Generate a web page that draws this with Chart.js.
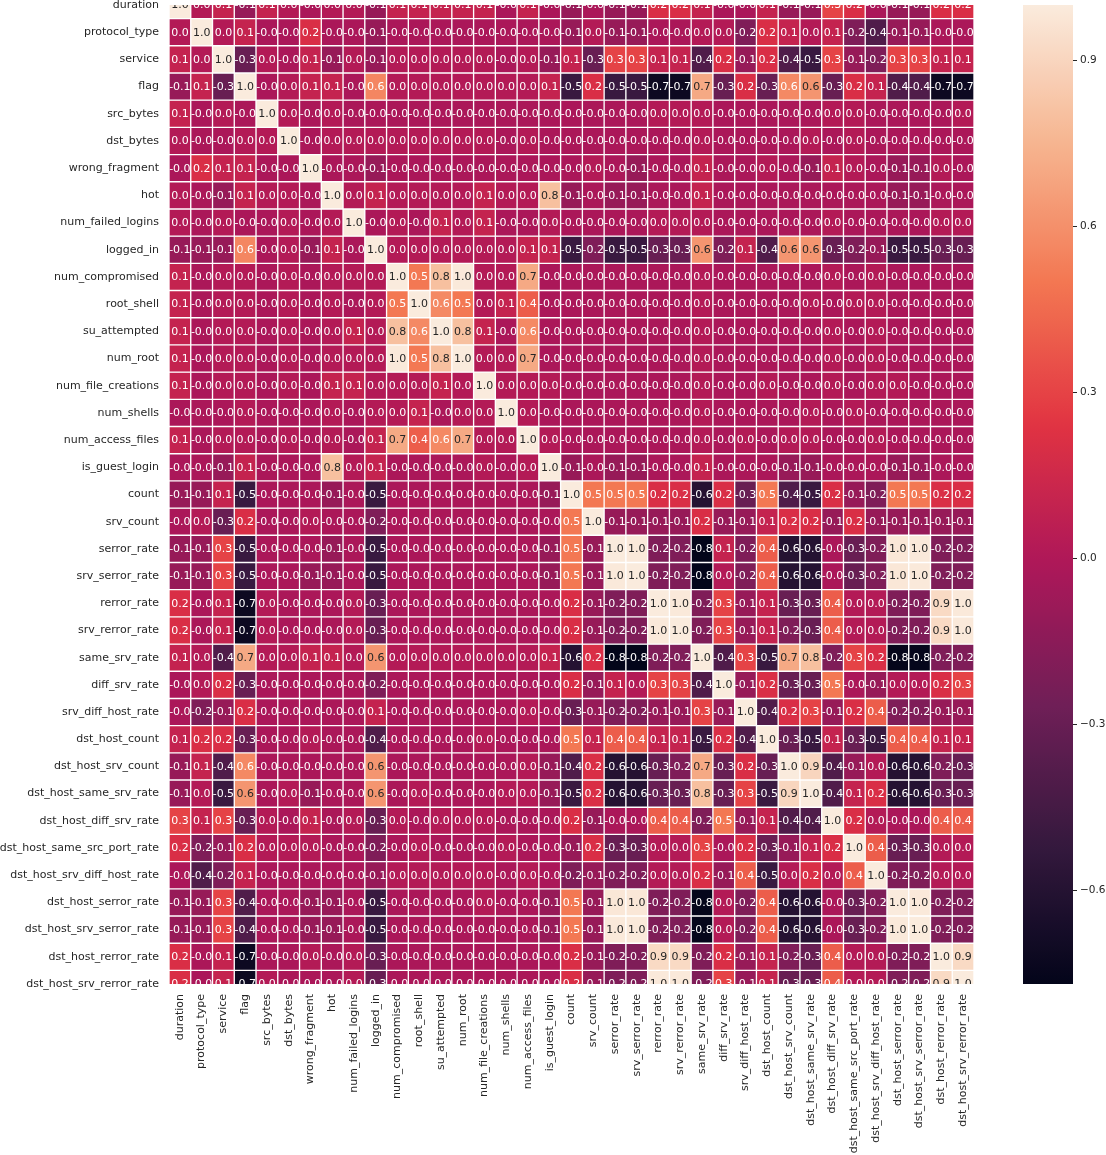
<!DOCTYPE html>
<html>
<head>
<meta charset="utf-8">
<script src="https://cdn.jsdelivr.net/npm/chart.js@4.4.0/dist/chart.umd.min.js"></script>
<style>
  html, body { margin: 0; padding: 0; background: #fff; }
  #wrap { position: relative; width: 1106px; height: 1155px; }
</style>
</head>
<body>
<div id="wrap"><canvas id="heat"></canvas></div>
<script>
// feature names (rows top->bottom, columns left->right)
const features = [
    'duration', 'protocol_type', 'service', 'flag', 'src_bytes', 'dst_bytes',
    'wrong_fragment', 'hot', 'num_failed_logins', 'logged_in', 'num_compromised',
    'root_shell', 'su_attempted', 'num_root', 'num_file_creations', 'num_shells',
    'num_access_files', 'is_guest_login', 'count', 'srv_count', 'serror_rate',
    'srv_serror_rate', 'rerror_rate', 'srv_rerror_rate', 'same_srv_rate',
    'diff_srv_rate', 'srv_diff_host_rate', 'dst_host_count', 'dst_host_srv_count',
    'dst_host_same_srv_rate', 'dst_host_diff_srv_rate', 'dst_host_same_src_port_rate',
    'dst_host_srv_diff_host_rate', 'dst_host_serror_rate', 'dst_host_srv_serror_rate',
    'dst_host_rerror_rate', 'dst_host_srv_rerror_rate'
];

// lower triangle of the correlation matrix (row i has columns 0..i)
const corrLower = [
    [1.0],
    [0.02, 1.0],
    [0.1, 0.02, 1.0],
    [-0.1, 0.1, -0.3, 1.0],
    [0.1, -0.02, 0.02, -0.02, 1.0],
    [0.02, -0.02, -0.02, 0.02, 0.02, 1.0],
    [-0.02, 0.2, 0.1, 0.1, -0.02, -0.02, 1.0],
    [0.02, -0.02, -0.1, 0.1, 0.02, 0.02, -0.02, 1.0],
    [0.02, -0.02, 0.02, -0.02, -0.02, 0.02, -0.02, 0.02, 1.0],
    [-0.1, -0.1, -0.1, 0.56, -0.02, 0.02, -0.1, 0.1, -0.02, 1.0],
    [0.1, -0.02, 0.02, 0.02, -0.02, 0.02, -0.02, 0.02, 0.02, 0.02, 1.0],
    [0.1, -0.02, 0.02, 0.02, -0.02, 0.02, -0.02, 0.02, -0.02, 0.02, 0.5, 1.0],
    [0.1, -0.02, 0.02, 0.02, -0.02, 0.02, -0.02, 0.02, 0.1, 0.02, 0.8, 0.57, 1.0],
    [0.1, -0.02, 0.02, 0.02, -0.02, 0.02, -0.02, 0.02, 0.02, 0.02, 0.99, 0.5, 0.8, 1.0],
    [0.1, -0.02, 0.02, 0.02, -0.02, 0.02, -0.02, 0.1, 0.1, 0.02, 0.02, 0.02, 0.1, 0.02, 1.0],
    [-0.02, -0.02, -0.02, 0.02, -0.02, -0.02, -0.02, 0.02, -0.02, 0.02, 0.02, 0.1, -0.02, 0.02, 0.02, 1.0],
    [0.1, -0.02, 0.02, 0.02, -0.02, 0.02, -0.02, 0.02, -0.02, 0.1, 0.7, 0.4, 0.57, 0.7, 0.02, 0.02, 1.0],
    [-0.02, -0.02, -0.1, 0.1, -0.02, -0.02, -0.02, 0.8, 0.02, 0.1, -0.02, -0.02, -0.02, -0.02, 0.02, -0.02, 0.02, 1.0],
    [-0.1, -0.1, 0.1, -0.5, -0.02, -0.02, -0.02, -0.1, -0.02, -0.5, -0.02, -0.02, -0.02, -0.02, -0.02, -0.02, -0.02, -0.1, 1.0],
    [-0.02, 0.02, -0.3, 0.2, -0.02, -0.02, 0.02, -0.02, -0.02, -0.2, -0.02, -0.02, -0.02, -0.02, -0.02, -0.02, -0.02, -0.02, 0.5, 1.0],
    [-0.1, -0.1, 0.3, -0.5, -0.02, -0.02, -0.02, -0.1, -0.02, -0.5, -0.02, -0.02, -0.02, -0.02, -0.02, -0.02, -0.02, -0.1, 0.5, -0.1, 1.0],
    [-0.1, -0.1, 0.3, -0.5, -0.02, -0.02, -0.1, -0.1, -0.02, -0.5, -0.02, -0.02, -0.02, -0.02, -0.02, -0.02, -0.02, -0.1, 0.5, -0.1, 0.99, 1.0],
    [0.2, -0.02, 0.1, -0.72, 0.02, -0.02, -0.02, -0.02, 0.02, -0.3, -0.02, -0.02, -0.02, -0.02, -0.02, -0.02, -0.02, -0.02, 0.2, -0.1, -0.2, -0.2, 1.0],
    [0.2, -0.02, 0.1, -0.72, 0.02, -0.02, -0.02, -0.02, 0.02, -0.3, -0.02, -0.02, -0.02, -0.02, -0.02, -0.02, -0.02, -0.02, 0.2, -0.1, -0.2, -0.2, 0.99, 1.0],
    [0.1, 0.02, -0.4, 0.7, 0.02, 0.02, 0.1, 0.1, 0.02, 0.62, 0.02, 0.02, 0.02, 0.02, 0.02, 0.02, 0.02, 0.1, -0.6, 0.2, -0.77, -0.77, -0.2, -0.2, 1.0],
    [-0.02, 0.02, 0.2, -0.3, -0.02, -0.02, -0.02, -0.02, -0.02, -0.2, -0.02, -0.02, -0.02, -0.02, -0.02, -0.02, -0.02, -0.02, 0.2, -0.1, 0.1, 0.02, 0.3, 0.3, -0.4, 1.0],
    [-0.02, -0.2, -0.1, 0.2, -0.02, -0.02, -0.02, -0.02, -0.02, 0.1, -0.02, -0.02, -0.02, -0.02, -0.02, -0.02, 0.02, -0.02, -0.3, -0.1, -0.2, -0.2, -0.1, -0.1, 0.3, -0.1, 1.0],
    [0.1, 0.2, 0.2, -0.3, -0.02, -0.02, 0.02, -0.02, -0.02, -0.4, -0.02, -0.02, -0.02, -0.02, 0.02, -0.02, -0.02, -0.02, 0.5, 0.1, 0.4, 0.4, 0.1, 0.1, -0.5, 0.2, -0.4, 1.0],
    [-0.1, 0.1, -0.4, 0.57, -0.02, -0.02, -0.02, -0.02, -0.02, 0.62, -0.02, -0.02, -0.02, -0.02, -0.02, -0.02, 0.02, -0.1, -0.4, 0.2, -0.6, -0.6, -0.3, -0.2, 0.7, -0.3, 0.2, -0.3, 1.0],
    [-0.1, 0.02, -0.5, 0.62, -0.02, 0.02, -0.1, -0.02, -0.02, 0.62, -0.02, 0.02, -0.02, -0.02, -0.02, 0.02, 0.02, -0.1, -0.5, 0.2, -0.6, -0.6, -0.3, -0.3, 0.8, -0.3, 0.3, -0.5, 0.9, 1.0],
    [0.3, 0.1, 0.3, -0.3, 0.02, -0.02, 0.1, -0.02, 0.02, -0.3, 0.02, -0.02, 0.02, 0.02, 0.02, -0.02, -0.02, -0.02, 0.2, -0.1, -0.02, -0.02, 0.4, 0.4, -0.2, 0.5, -0.1, 0.1, -0.4, -0.4, 1.0],
    [0.2, -0.2, -0.1, 0.2, 0.02, 0.02, 0.02, -0.02, -0.02, -0.2, -0.02, 0.02, -0.02, -0.02, -0.02, 0.02, -0.02, -0.02, -0.1, 0.2, -0.3, -0.3, 0.02, 0.02, 0.3, -0.02, 0.2, -0.3, -0.1, 0.1, 0.2, 1.0],
    [-0.02, -0.4, -0.2, 0.1, -0.02, -0.02, -0.02, -0.02, -0.02, -0.1, 0.02, 0.02, 0.02, 0.02, 0.02, -0.02, 0.02, -0.02, -0.2, -0.1, -0.2, -0.2, 0.02, 0.02, 0.2, -0.1, 0.4, -0.5, 0.02, 0.2, 0.02, 0.4, 1.0],
    [-0.1, -0.1, 0.3, -0.4, -0.02, -0.02, -0.1, -0.1, -0.02, -0.5, -0.02, -0.02, -0.02, -0.02, 0.02, -0.02, -0.02, -0.1, 0.5, -0.1, 0.98, 0.98, -0.2, -0.2, -0.76, 0.02, -0.2, 0.4, -0.6, -0.6, -0.02, -0.3, -0.2, 1.0],
    [-0.1, -0.1, 0.3, -0.4, -0.02, -0.02, -0.1, -0.1, -0.02, -0.5, -0.02, -0.02, -0.02, -0.02, -0.02, -0.02, -0.02, -0.1, 0.5, -0.1, 0.99, 0.99, -0.2, -0.2, -0.76, 0.02, -0.2, 0.4, -0.6, -0.6, -0.02, -0.3, -0.2, 0.99, 1.0],
    [0.2, -0.02, 0.1, -0.72, -0.02, -0.02, 0.02, -0.02, 0.02, -0.3, -0.02, -0.02, -0.02, -0.02, -0.02, -0.02, -0.02, -0.02, 0.2, -0.1, -0.2, -0.2, 0.92, 0.92, -0.2, 0.2, -0.1, 0.1, -0.2, -0.3, 0.4, 0.02, 0.02, -0.2, -0.2, 1.0],
    [0.2, -0.02, 0.1, -0.72, 0.02, -0.02, -0.02, -0.02, 0.02, -0.3, -0.02, -0.02, -0.02, -0.02, -0.02, -0.02, -0.02, -0.02, 0.2, -0.1, -0.2, -0.2, 0.99, 0.99, -0.2, 0.3, -0.1, 0.1, -0.3, -0.3, 0.4, 0.02, 0.02, -0.2, -0.2, 0.92, 1.0]
];

// colorbar
const cbarTicks = [0.9, 0.6, 0.3, 0.0, -0.3, -0.6];
const vmin = -0.77;
const vmax = 1.0;

// seaborn "rocket" colormap anchors [position, r, g, b]
const rocketStops = [
    [0.000, 3, 5, 26],
    [0.143, 53, 25, 62],
    [0.286, 112, 31, 87],
    [0.429, 173, 23, 89],
    [0.571, 225, 51, 66],
    [0.714, 243, 118, 81],
    [0.857, 246, 180, 143],
    [1.000, 250, 235, 221]
];

const FONT = '"DejaVu Sans", "Liberation Sans", sans-serif';
const TEXT_DARK = '#262626';

// full symmetric matrix
const corr = features.map((_, i) => features.map((_, j) => i >= j ? corrLower[i][j] : corrLower[j][i]));

const rocketRgb = (v) => {
    let t = (v - vmin) / (vmax - vmin);
    t = Math.min(1, Math.max(0, t));
    for (let k = 1; k < rocketStops.length; k++) {
        const a = rocketStops[k - 1], b = rocketStops[k];
        if (t <= b[0]) {
            const f = (t - a[0]) / (b[0] - a[0]);
            return [1, 2, 3].map(c => Math.round(a[c] + (b[c] - a[c]) * f));
        }
    }
    return rocketStops[rocketStops.length - 1].slice(1);
};
const rocket = (v) => `rgb(${rocketRgb(v).join(',')})`;

// same rule seaborn uses to pick annotation colour
const luminance = (rgb) => {
    const lin = rgb.map(c => {
        c /= 255;
        return c <= 0.03928 ? c / 12.92 : Math.pow((c + 0.055) / 1.055, 2.4);
    });
    return 0.2126 * lin[0] + 0.7152 * lin[1] + 0.0722 * lin[2];
};
const annotColor = (v) => luminance(rocketRgb(v)) > 0.408 ? TEXT_DARK : '#ffffff';

// one dataset per row: floating bars spanning that row
const datasets = features.map((name, i) => ({
    label: name,
    data: features.map(() => [i - 0.5, i + 0.5]),
    backgroundColor: corr[i].map(rocket),
    borderColor: '#ffffff',
    borderWidth: 1,
    borderSkipped: false,
    grouped: false,
    categoryPercentage: 1,
    barPercentage: 1,
    clip: 0
}));

// numbers inside the cells
const cellText = {
    id: 'cellText',
    afterDatasetsDraw(chart) {
        const { ctx, chartArea, scales } = chart;
        ctx.save();
        ctx.beginPath();
        ctx.rect(chartArea.left, chartArea.top, chartArea.right - chartArea.left, chartArea.bottom - chartArea.top);
        ctx.clip();
        ctx.font = `11px ${FONT}`;
        ctx.textAlign = 'center';
        ctx.textBaseline = 'middle';
        corr.forEach((row, i) => {
            row.forEach((v, j) => {
                ctx.fillStyle = annotColor(v);
                ctx.fillText(v.toFixed(1), scales.x.getPixelForValue(j), scales.y.getPixelForValue(i) + 0.5);
            });
        });
        ctx.restore();
    }
};

// colour bar on the right
const colorBar = {
    id: 'colorBar',
    afterDraw(chart) {
        const { ctx, chartArea } = chart;
        const cb = chart.scales.cb;
        const left = chartArea.right + 49;
        const width = 50;
        const top = cb.getPixelForValue(vmax);
        const bottom = cb.getPixelForValue(vmin);
        const grad = ctx.createLinearGradient(0, top, 0, bottom);
        const steps = 60;
        for (let k = 0; k <= steps; k++) {
            grad.addColorStop(k / steps, rocket(vmax - (vmax - vmin) * k / steps));
        }
        ctx.save();
        ctx.fillStyle = grad;
        ctx.fillRect(left, top, width, bottom - top);
        ctx.strokeStyle = TEXT_DARK;
        ctx.fillStyle = TEXT_DARK;
        ctx.lineWidth = 1;
        ctx.font = `10.5px ${FONT}`;
        ctx.textAlign = 'left';
        ctx.textBaseline = 'middle';
        cbarTicks.forEach(t => {
            const y = Math.round(cb.getPixelForValue(t)) + 0.5;
            ctx.beginPath();
            ctx.moveTo(left + width, y);
            ctx.lineTo(left + width + 4, y);
            ctx.stroke();
            const txt = t < 0 ? '\u2212' + Math.abs(t).toFixed(1) : t.toFixed(1);
            ctx.fillText(txt, left + width + 7, y);
        });
        ctx.restore();
    }
};

const tickFont = { family: FONT, size: 11 };

new Chart(document.getElementById('heat'), {
    type: 'bar',
    data: { labels: features, datasets },
    options: {
        responsive: true,
        maintainAspectRatio: false,
        animation: false,
        events: [],
        layout: { padding: { top: 5, right: 132, left: 0, bottom: 0 } },
        plugins: {
            legend: { display: false },
            tooltip: { enabled: false }
        },
        scales: {
            x: {
                type: 'category',
                offset: true,
                grid: { display: false, drawTicks: false },
                border: { display: false },
                ticks: {
                    autoSkip: false,
                    minRotation: 90,
                    maxRotation: 90,
                    padding: 10,
                    color: TEXT_DARK,
                    font: tickFont
                },
                afterFit: s => { s.height = 171; s.paddingLeft = 0; s.paddingRight = 0; }
            },
            y: {
                type: 'linear',
                reverse: true,
                min: 0,
                max: 36,
                grid: { display: false, drawTicks: false },
                border: { display: false },
                ticks: {
                    stepSize: 1,
                    autoSkip: false,
                    maxTicksLimit: 100,
                    padding: 10,
                    color: TEXT_DARK,
                    font: tickFont,
                    callback: v => features[v]
                },
                afterFit: s => { s.width = 169; s.paddingTop = 0; s.paddingBottom = 0; }
            },
            cb: {
                type: 'linear',
                position: 'right',
                display: false,
                min: vmin,
                max: vmax
            }
        }
    },
    plugins: [cellText, colorBar]
});
</script>
</body>
</html>
